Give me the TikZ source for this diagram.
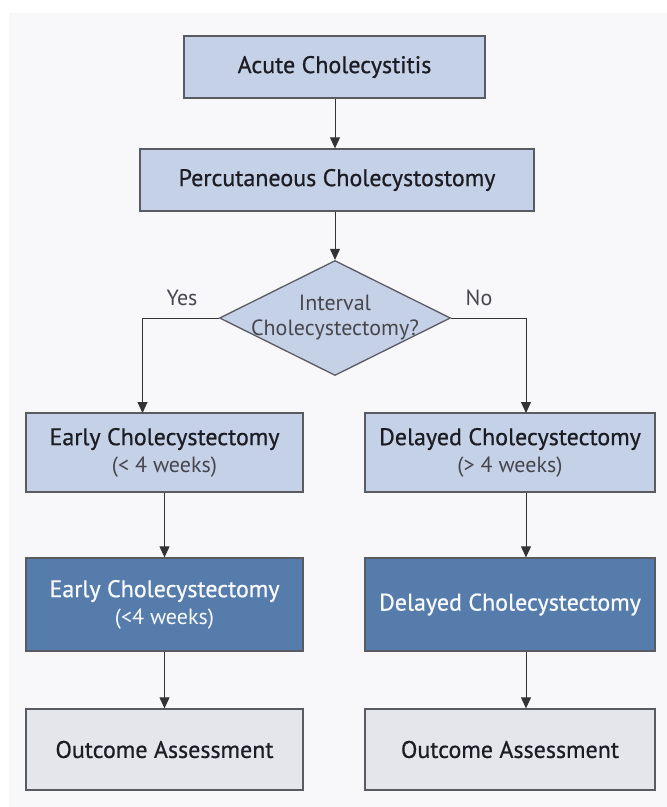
\documentclass[tikz,border=0pt]{standalone}
\usepackage{fontspec}
\setmainfont{PT Sans}
\newfontfamily\medfont[FakeBold=0.7]{PT Sans}
\usepackage{tikz}
\usetikzlibrary{arrows.meta,shapes.geometric,positioning,calc}
\definecolor{mylightblue}{RGB}{197,209,230}
\definecolor{mydarkblue}{RGB}{86,124,172}
\definecolor{mygrey}{RGB}{229,230,236}
\definecolor{myedge}{RGB}{90,90,98}
\definecolor{mypaper}{RGB}{248,247,250}
\definecolor{myink}{RGB}{28,28,36}
\definecolor{mysoft}{RGB}{70,70,78}
\newcommand{\bigtxt}{\medfont\fontsize{24}{27}\selectfont}
\newcommand{\smalltxt}{\normalfont\fontsize{22}{25}\selectfont}
\newcommand{\weeks}[1]{{\smalltxt\color{mysoft}#1}}
\tikzstyle{stepbox}=[draw=myedge,fill=mylightblue,line width=1.3pt,inner sep=0pt,align=center,text=myink,font=\bigtxt]
\tikzstyle{darkbox}=[stepbox,fill=mydarkblue,text=white!90!mylightblue]
\tikzstyle{greybox}=[stepbox,fill=mygrey]
\tikzstyle{decision}=[draw=myedge,fill=mylightblue,line width=1.3pt,diamond,inner sep=0pt,minimum width=231pt,minimum height=115pt]
\tikzstyle{flow}=[line width=1pt,draw=black!80,-{Triangle[length=11pt,width=10pt]}]
\begin{document}
\begin{tikzpicture}[x=1pt,y=-1pt]
\useasboundingbox (0,0) rectangle (667,807);
\fill[white] (0,0) rectangle (667,807);
\fill[mypaper] (9,13) rectangle (667,807);
% top of the chart
\node[stepbox,minimum width=301pt,minimum height=62pt] (acute) at (334.5,67) {Acute Cholecystitis};
\node[stepbox,minimum width=394pt,minimum height=62pt] (perc) at (337,180) {Percutaneous Cholecystostomy};
\node[decision] (interval) at (335,318) {};
\node[align=center,font=\smalltxt,text=mysoft] (question) at (interval) {Interval\\Cholecystectomy?};
\node[font=\smalltxt,text=mysoft] (yes) at (182,298) {Yes};
\node[font=\smalltxt,text=mysoft] (no) at (479,298) {No};
% left column
\node[stepbox,minimum width=277pt,minimum height=79pt] (early) at (164.5,452.5) {Early Cholecystectomy\\\weeks{(< 4 weeks)}};
\node[darkbox,minimum width=277pt,minimum height=93pt] (earlysurg) at (164.5,604.5) {Early Cholecystectomy\\{\smalltxt(<4 weeks)}};
\node[greybox,minimum width=277pt,minimum height=81pt] (outleft) at (164.5,749.5) {Outcome Assessment};
% right column
\node[stepbox,minimum width=290pt,minimum height=79pt] (delayed) at (510,452.5) {Delayed Cholecystectomy\\\weeks{(> 4 weeks)}};
\node[darkbox,minimum width=290pt,minimum height=93pt] (delayedsurg) at (510,604.5) {Delayed Cholecystectomy};
\node[greybox,minimum width=290pt,minimum height=81pt] (outright) at (510,749.5) {Outcome Assessment};
\coordinate (yesdrop) at (142.5,413);
\coordinate (nodrop) at (526,413);
% connectors
\draw[flow] (acute.south -| interval.north) -- (perc.north -| interval.north);
\draw[flow] (perc.south -| interval.north) -- (interval.north);
\draw[flow] (interval.west) -| (yesdrop);
\draw[flow] (interval.east) -| (nodrop);
\draw[flow] (early) -- (earlysurg);
\draw[flow] (earlysurg) -- (outleft);
\draw[flow] (delayed.south -| nodrop) -- (delayedsurg.north -| nodrop);
\draw[flow] (delayedsurg.south -| nodrop) -- (outright.north -| nodrop);
\end{tikzpicture}
\end{document}
